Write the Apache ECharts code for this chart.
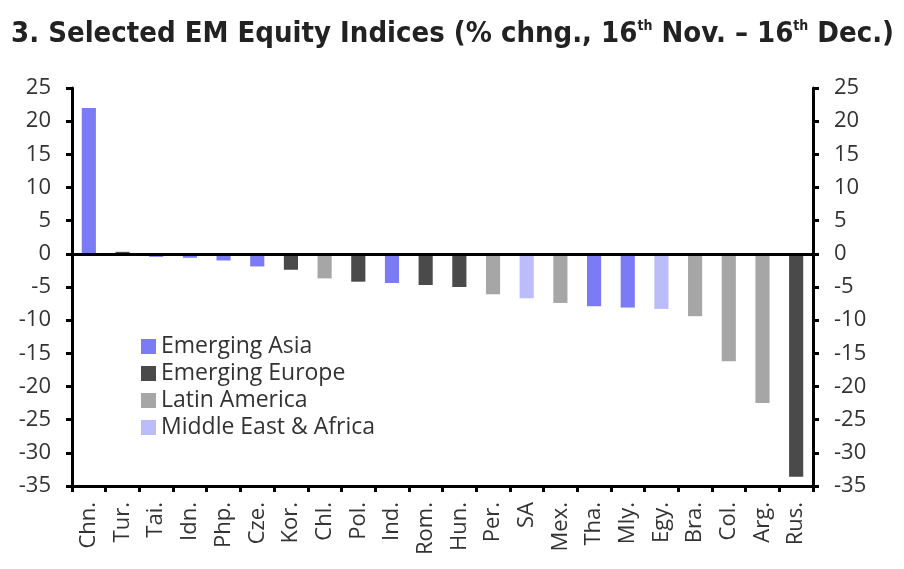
<!DOCTYPE html>
<html><head><meta charset="utf-8">
<script src="https://cdn.jsdelivr.net/npm/echarts@6/dist/echarts.min.js"></script>
<style>html,body{margin:0;padding:0;background:#fff}#c{width:904px;height:569px}</style>
</head><body><div id="c"></div>
<script>
var categories = ['Chn.','Tur.','Tai.','Idn.','Php.','Cze.','Kor.','Chl.','Pol.','Ind.','Rom.','Hun.','Per.','SA','Mex.','Tha.','Mly.','Egy.','Bra.','Col.','Arg.','Rus.'];
var values = [22.0, 0.3, -0.45, -0.6, -1.0, -1.9, -2.4, -3.7, -4.2, -4.4, -4.7, -5.0, -6.1, -6.7, -7.4, -7.9, -8.1, -8.3, -9.4, -16.2, -22.5, -33.6];
var regions = ['Asia','Europe','Asia','Asia','Asia','Asia','Europe','Latin','Europe','Asia','Europe','Europe','Latin','MEA','Latin','Asia','Asia','MEA','Latin','Latin','Latin','Europe'];
var groupKeys = ['Asia','Europe','Latin','MEA'];
var groupNames = ['Emerging Asia','Emerging Europe','Latin America','Middle East & Africa'];
var groupColors = ['#7b7bf5','#4a4a4a','#a6a6a6','#bcbcf8'];
var yTicks = {min:-35, max:25, interval:5};

var font = '"Open Sans", Lato, sans-serif';
var tfont = '"Liberation Sans Narrow", "DejaVu Sans Condensed", sans-serif';
var series = groupKeys.map(function(k, gi){
  return {
    name: groupNames[gi], type:'bar', barWidth:'42%', barGap:'-100%',
    itemStyle:{color:groupColors[gi]},
    data: values.map(function(v,i){ return regions[i]===k ? v : null; }),
    markLine: gi===0 ? {silent:true, symbol:'none', label:{show:false},
      lineStyle:{color:'#000', width:3, type:'solid'}, data:[{yAxis:0}]} : undefined
  };
});
var yAxisBase = function(pos, margin){ return {
  type:'value', position:pos, min:yTicks.min, max:yTicks.max, interval:yTicks.interval,
  axisLine:{show:true, lineStyle:{color:'#000', width:3}},
  axisTick:{show:true, inside:false, length:6, lineStyle:{color:'#000', width:3}},
  axisLabel:{color:'#333', fontSize:22, fontFamily:font, margin:margin},
  splitLine:{show:false}
};};
var chart = echarts.init(document.getElementById('c'));
chart.setOption({
  animation:false,
  title:{ left:6, top:14,
    text:'3. Selected EM Equity Indices (% chng., 16{s|th} Nov. – 16{s|th} Dec.)',
    textStyle:{ fontSize:29, fontWeight:'bold', color:'#222', fontFamily:tfont,
      rich:{ s:{fontSize:14, fontWeight:'bold', color:'#222', fontFamily:tfont, padding:[0,0,16,0]} } }
  },
  legend:{ orient:'vertical', left:136, top:330, itemWidth:15, itemHeight:15, itemGap:4,
    textStyle:{fontSize:23, color:'#333', fontFamily:font}, icon:'rect',
    data:groupNames },
  grid:{ left:72, right:91, top:88, bottom:83, containLabel:false },
  xAxis:{ type:'category', data:categories, position:'bottom',
    axisLine:{onZero:false, lineStyle:{color:'#000', width:3}},
    axisTick:{show:true, alignWithLabel:false, length:6, lineStyle:{color:'#000', width:3}},
    axisLabel:{rotate:90, color:'#333', fontSize:22, fontFamily:font, interval:0, margin:16}
  },
  yAxis:[ yAxisBase('left', 21), yAxisBase('right', 21) ],
  series: series
});
</script></body></html>
